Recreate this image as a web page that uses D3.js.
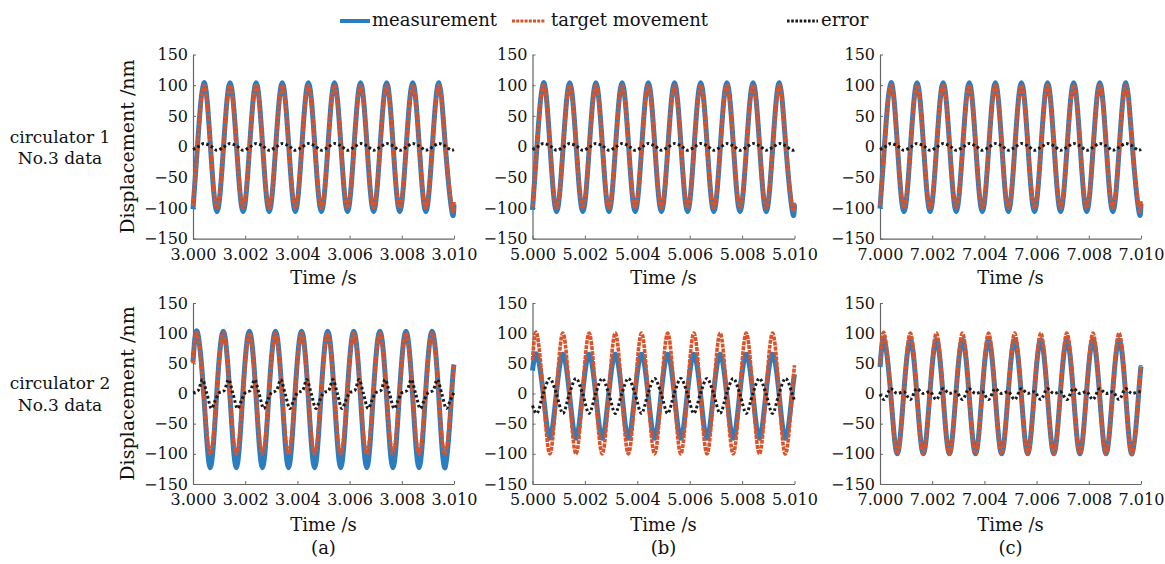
<!DOCTYPE html>
<html><head><meta charset="utf-8">
<script src="https://cdn.jsdelivr.net/npm/d3@7"></script>
<style>
body{margin:0;background:#fff}
svg{display:block}
text{font-family:"DejaVu Serif",serif;fill:#111}
</style>
</head><body>
<svg id="chart" width="1165" height="564"></svg>
<script>
// ---------------- DATA (times in ms after the panel start) ----------------
const legendLabels = ["measurement", "target movement", "error"];
const rowLabels = [["circulator 1", "No.3 data"], ["circulator 2", "No.3 data"]];
const panelLetters = ["(a)", "(b)", "(c)"];
const startTimes = [3, 5, 7];
const xTickLabelsA = ["3.000","3.002","3.004","3.006","3.008","3.010"];
const xTickLabelsB = ["5.000","5.002","5.004","5.006","5.008","5.010"];
const xTickLabelsC = ["7.000","7.002","7.004","7.006","7.008","7.010"];
const yTicks = [-150, -100, -50, 0, 50, 100, 150];

const timesTop = [0,0.17,0.42,0.67,0.92,1.17,1.42,1.67,1.92,2.17,2.42,2.67,2.92,3.17,3.42,3.67,3.92,4.17,4.42,4.67,4.92,5.17,5.42,5.67,5.92,6.17,6.42,6.67,6.92,7.17,7.42,7.67,7.92,8.17,8.42,8.67,8.92,9.17,9.42,9.67,9.92,10];
const timesBottom = [0,0.16,0.41,0.66,0.91,1.16,1.41,1.66,1.91,2.16,2.41,2.66,2.91,3.16,3.41,3.66,3.91,4.16,4.41,4.66,4.91,5.16,5.41,5.66,5.91,6.16,6.41,6.66,6.91,7.16,7.41,7.66,7.91,8.16,8.41,8.66,8.91,9.16,9.41,9.66,9.91,10];
const errTimesBottomA = [0,0.2,0.36,0.53,0.71,0.85,1.0,1.2,1.36,1.53,1.71,1.85,2.0,2.2,2.36,2.53,2.71,2.85,3.0,3.2,3.36,3.53,3.71,3.85,4.0,4.2,4.36,4.53,4.71,4.85,5.0,5.2,5.36,5.53,5.71,5.85,6.0,6.2,6.36,6.53,6.71,6.85,7.0,7.2,7.36,7.53,7.71,7.85,8.0,8.2,8.36,8.53,8.71,8.85,9.0,9.2,9.36,9.53,9.71,9.85,10];

// circulator 1
const targetTopA = [-97,0,100,0,-100,0,100,0,-100,0,100,0,-100,0,100,0,-100,0,100,0,-100,0,100,0,-100,0,100,0,-100,0,100,0,-100,0,100,0,-100,0,100,0,-100,-90];
const measTopA   = [-102,0,104,0,-106,0,104,0,-106,0,104,0,-106,0,104,0,-106,0,104,0,-106,0,104,0,-106,0,104,0,-106,0,104,0,-106,0,104,0,-106,0,104,0,-106,-94];
const errorTopA  = [-5,-1,5,1,-6,-1,5,1,-6,-1,5,1,-6,-1,5,1,-6,-1,5,1,-6,-1,5,1,-6,-1,5,1,-6,-1,5,1,-6,-1,5,1,-6,-1,5,1,-6,-5];
const targetTopB = [-98,0,100,0,-100,0,100,0,-100,0,100,0,-100,0,100,0,-100,0,100,0,-100,0,100,0,-100,0,100,0,-100,0,100,0,-100,0,100,0,-100,0,100,0,-100,-90];
const measTopB   = [-103,0,104,0,-106,0,104,0,-106,0,104,0,-106,0,104,0,-106,0,104,0,-106,0,104,0,-106,0,104,0,-106,0,104,0,-106,0,104,0,-106,0,104,0,-106,-94];
const errorTopB  = [-5,-1,5,1,-6,-1,5,1,-6,-1,5,1,-6,-1,5,1,-6,-1,5,1,-6,-1,5,1,-6,-1,5,1,-6,-1,5,1,-6,-1,5,1,-6,-1,5,1,-6,-5];
const targetTopC = [-96,0,100,0,-100,0,100,0,-100,0,100,0,-100,0,100,0,-100,0,100,0,-100,0,100,0,-100,0,100,0,-100,0,100,0,-100,0,100,0,-100,0,100,0,-100,-89];
const measTopC   = [-101,0,104,0,-106,0,104,0,-106,0,104,0,-106,0,104,0,-106,0,104,0,-106,0,104,0,-106,0,104,0,-106,0,104,0,-106,0,104,0,-106,0,104,0,-106,-93];
const errorTopC  = [-5,-1,5,1,-6,-1,5,1,-6,-1,5,1,-6,-1,5,1,-6,-1,5,1,-6,-1,5,1,-6,-1,5,1,-6,-1,5,1,-6,-1,5,1,-6,-1,5,1,-6,-4];

// circulator 2
const targetBottomA = [50,100,0,-100,0,100,0,-100,0,100,0,-100,0,100,0,-100,0,100,0,-100,0,100,0,-100,0,100,0,-100,0,100,0,-100,0,100,0,-100,0,100,0,-100,0,47];
const measBottomA   = [52,103,0,-123,0,103,0,-123,0,103,0,-123,0,103,0,-123,0,103,0,-123,0,103,0,-123,0,103,0,-123,0,103,0,-123,0,103,0,-123,0,103,0,-123,0,48];
const errorBottomA  = [1,5,23,0,-25,-12,1,5,23,0,-25,-12,1,5,23,0,-25,-12,1,5,23,0,-25,-12,1,5,23,0,-25,-12,1,5,23,0,-25,-12,1,5,23,0,-25,-12,1,5,23,0,-25,-12,1,5,23,0,-25,-12,1,5,23,0,-25,-12,2];
const targetBottomB = [55,100,0,-100,0,100,0,-100,0,100,0,-100,0,100,0,-100,0,100,0,-100,0,100,0,-100,0,100,0,-100,0,100,0,-100,0,100,0,-100,0,100,0,-100,0,47];
const measBottomB   = [38,65,0,-74,0,65,0,-74,0,65,0,-74,0,65,0,-74,0,65,0,-74,0,65,0,-74,0,65,0,-74,0,65,0,-74,0,65,0,-74,0,65,0,-74,0,32];
const errorBottomB  = [-20,-33,0,25,0,-33,0,25,0,-33,0,25,0,-33,0,25,0,-33,0,25,0,-33,0,25,0,-33,0,25,0,-33,0,25,0,-33,0,25,0,-33,0,25,0,-12];
const targetBottomC = [48,100,0,-100,0,100,0,-100,0,100,0,-100,0,100,0,-100,0,100,0,-100,0,100,0,-100,0,100,0,-100,0,100,0,-100,0,100,0,-100,0,100,0,-100,0,47];
const measBottomC   = [44,89,0,-100,0,89,0,-100,0,89,0,-100,0,89,0,-100,0,89,0,-100,0,89,0,-100,0,89,0,-100,0,89,0,-100,0,89,0,-100,0,89,0,-100,0,45];
const errorBottomC  = [-1,-10,8,0,3,-10,8,0,3,-10,8,0,3,-10,8,0,3,-10,8,0,3,-10,8,0,3,-10,8,0,3,-10,8,0,3,-10,8,0,3,-10,8,0,3,3];

// ---------------- LAYOUT ----------------
const svg = d3.select("#chart");
const colX = [[193, 454], [532.5, 794.5], [880, 1141]];
const rowY = [[238.7, 54.5], [484, 303]];
const colors = {meas: "#2C7DC0", target: "#D9542A", err: "#1a1a1a"};
const tickLabelSets = [xTickLabelsA, xTickLabelsB, xTickLabelsC];

const panels = [
  {r:0,c:0,t:timesTop,tgt:targetTopA,ms:measTopA,et:timesTop,er:errorTopA},
  {r:0,c:1,t:timesTop,tgt:targetTopB,ms:measTopB,et:timesTop,er:errorTopB},
  {r:0,c:2,t:timesTop,tgt:targetTopC,ms:measTopC,et:timesTop,er:errorTopC},
  {r:1,c:0,t:timesBottom,tgt:targetBottomA,ms:measBottomA,et:errTimesBottomA,er:errorBottomA},
  {r:1,c:1,t:timesBottom,tgt:targetBottomB,ms:measBottomB,et:timesBottom,er:errorBottomB},
  {r:1,c:2,t:timesBottom,tgt:targetBottomC,ms:measBottomC,et:timesBottom,er:errorBottomC}
];

panels.forEach(p => {
  const t0 = startTimes[p.c];
  const labels = tickLabelSets[p.c];
  const x = d3.scaleLinear().domain([t0, t0 + 0.01]).range(colX[p.c]);
  const y = d3.scaleLinear().domain([-150, 150]).range(rowY[p.r]);
  const g = svg.append("g");

  const xAxis = d3.axisBottom(x).tickValues(labels.map(Number))
    .tickFormat((d, i) => labels[i]).tickSize(-3).tickSizeOuter(0).tickPadding(10);
  const gx = g.append("g").attr("transform", `translate(0,${rowY[p.r][0]})`).call(xAxis);
  const yAxis = d3.axisLeft(y).tickValues(yTicks).tickFormat(d3.format("d"))
    .tickSize(-3).tickSizeOuter(0).tickPadding(5);
  const gy = g.append("g").attr("transform", `translate(${colX[p.c][0]},0)`).call(yAxis);
  [gx, gy].forEach(a => {
    a.selectAll("text").style("font-family", '"DejaVu Serif",serif').style("font-size", "16px").attr("fill", "#111");
    a.selectAll("line").attr("stroke", "#666");
    a.select(".domain").attr("stroke", "#666").attr("stroke-width", 1.2);
  });

  const mainLine = (vals) => d3.line().curve(d3.curveNatural)
    .x((d, i) => x(t0 + p.t[i] / 1000)).y(d => y(d))(vals);
  const errLine = d3.line().curve(d3.curveMonotoneX)
    .x((d, i) => x(t0 + p.et[i] / 1000)).y(d => y(d))(p.er);

  g.append("path").attr("d", mainLine(p.ms)).attr("fill", "none")
    .attr("stroke", colors.meas).attr("stroke-width", 5);
  g.append("path").attr("d", mainLine(p.tgt)).attr("fill", "none")
    .attr("stroke", colors.target).attr("stroke-width", 3.6).attr("stroke-dasharray", "4,1");
  g.append("path").attr("d", errLine).attr("fill", "none")
    .attr("stroke", colors.err).attr("stroke-width", 3).attr("stroke-dasharray", "2.6,2.4");

  const cx = (colX[p.c][0] + colX[p.c][1]) / 2;
  g.append("text").attr("x", cx).attr("y", p.r === 0 ? 284 : 531)
    .attr("text-anchor", "middle").style("font-size", "18px").text("Time /s");
  if (p.c === 0) {
    const cy = (rowY[p.r][0] + rowY[p.r][1]) / 2;
    g.append("text").attr("transform", `translate(134,${cy}) rotate(-90)`)
      .attr("text-anchor", "middle").style("font-size", "19px").text("Displacement /nm");
  }
  if (p.r === 1) {
    g.append("text").attr("x", cx).attr("y", 554).attr("text-anchor", "middle")
      .style("font-size", "18px").text(panelLetters[p.c]);
  }
});

// row labels
const rowLabelY = [[143, 164], [389, 411]];
rowLabels.forEach((lines, r) => {
  lines.forEach((s, k) => {
    svg.append("text").attr("x", 60).attr("y", rowLabelY[r][k]).attr("text-anchor", "middle")
      .style("font-size", "17px").text(s);
  });
});

// legend
const legendItems = [
  {label: legendLabels[0], x1: 340, x2: 370, tx: 372, color: colors.meas, w: 4, dash: null},
  {label: legendLabels[1], x1: 512, x2: 545, tx: 551, color: colors.target, w: 3, dash: "3,1.2"},
  {label: legendLabels[2], x1: 787, x2: 818, tx: 821, color: colors.err, w: 3, dash: "2.6,1.6"}
];
legendItems.forEach(d => {
  svg.append("line").attr("x1", d.x1).attr("x2", d.x2).attr("y1", 21).attr("y2", 21)
    .attr("stroke", d.color).attr("stroke-width", d.w).attr("stroke-dasharray", d.dash);
  svg.append("text").attr("x", d.tx).attr("y", 26).style("font-size", "18px").text(d.label);
});
</script>
</body></html>
